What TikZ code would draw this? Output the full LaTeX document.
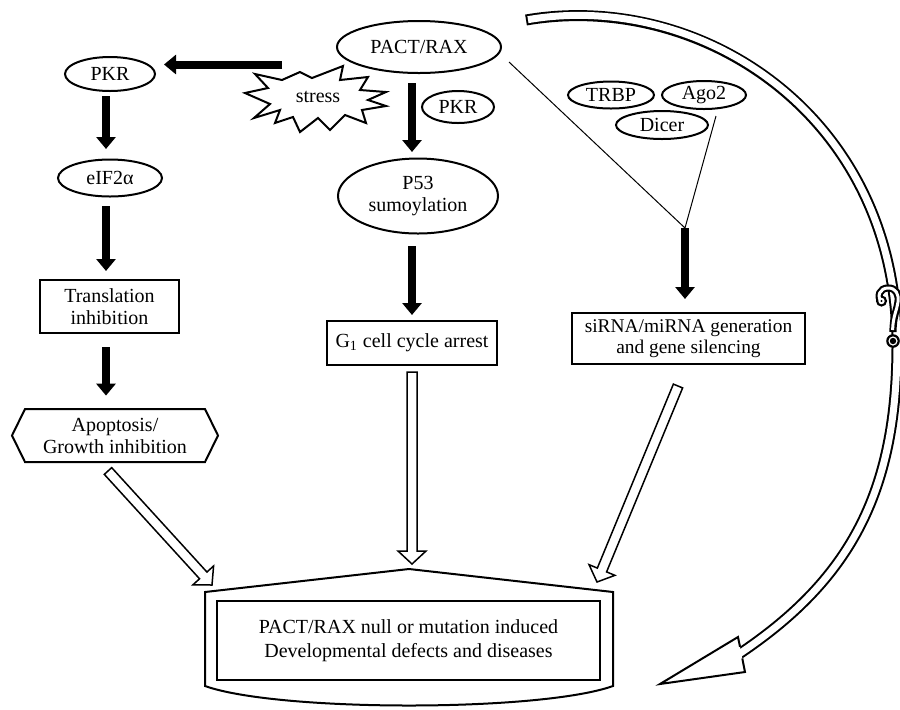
\documentclass[tikz,border=0pt]{standalone}
\usepackage{fontspec}
\setmainfont{Liberation Serif}
\usetikzlibrary{arrows.meta,calc,shapes.geometric}
\tikzset{
  lbl/.style={inner sep=0pt, align=center, font=\fontsize{10}{11}\selectfont},
  ell/.style={lbl, draw, line width=1pt, ellipse},
  box/.style={lbl, draw, line width=1pt, rectangle},
  barrow/.style={line width=4pt, -{Triangle[length=6pt,width=9.5pt]}},
  thinl/.style={line width=0.5pt},
  hol/.style={draw, line width=0.75pt, fill=white, line join=miter},
  outl/.style={line width=1pt, line join=miter},
}
\newcommand\hollowarrow[2]{%
  \path ($(#2)!6.5pt!(#1)$) coordinate (hb);
  \draw[hol] ($(#1)!2.5pt!90:(#2)$) -- ($(hb)!2.5pt!90:(#2)$) -- ($(hb)!7pt!90:(#2)$)
    -- (#2) -- ($(hb)!7pt!-90:(#2)$) -- ($(hb)!2.5pt!-90:(#2)$) -- ($(#1)!2.5pt!-90:(#2)$) -- cycle;
}
\begin{document}
\begin{tikzpicture}[x=0.5pt,y=-0.5pt]
\fill[white] (0,0) rectangle (900,709);
\useasboundingbox (0,0) rectangle (900,709);

% ---- nodes ----
\node[ell, minimum width=82pt, minimum height=26pt] (pact) at (419,47) {PACT/RAX};
\draw[outl, fill=white] (245,93) -- (268,88) -- (255,74) -- (282,80) -- (300,72) -- (312,78)
  -- (343,66) -- (340,80) -- (368,77) -- (360,90) -- (386,92) -- (368,100) -- (386,106)
  -- (362,110) -- (366,123) -- (345,115) -- (330,130) -- (318,118) -- (300,132) -- (293,117)
  -- (275,123) -- (280,110) -- (254,118) -- (270,104) -- cycle;
\node[lbl] (stress) at (318,97) {stress};
\node[ell, minimum width=45pt, minimum height=17pt] (pkrL) at (110,74) {PKR};
\node[ell, minimum width=52pt, minimum height=18.5pt] (eif) at (110,178) {eIF2α};
\node[box, minimum width=69.5pt, minimum height=26.5pt] (trans) at (109.5,306.5) {Translation\\inhibition};
\draw[outl] (12,435.5) -- (25,409) -- (205,409) -- (218,435.5) -- (205,462) -- (25,462) -- cycle;
\node[lbl, minimum width=103pt, minimum height=26.5pt] (apop) at (115,435.5) {Apoptosis/\\Growth inhibition};
\node[ell, minimum width=36pt, minimum height=16pt] (pkrM) at (458,107) {PKR};
\node[ell, minimum width=80pt, minimum height=37.5pt] (p53) at (418,196) {P53\\sumoylation};
\node[box, minimum width=85pt, minimum height=22pt] (g1) at (412,343) {G\textsubscript{1} cell cycle arrest};
\node[ell, minimum width=43pt, minimum height=13.5pt] (trbp) at (611,95) {TRBP};
\node[ell, minimum width=42pt, minimum height=14pt] (ago) at (704,95) {Ago2};
\node[ell, minimum width=46pt, minimum height=14pt] (dicer) at (662,125) {Dicer};
\node[box, minimum width=116.5pt, minimum height=25.5pt, font=\fontsize{9.7}{10.5}\selectfont] (sirna) at (688.5,338.5) {siRNA/miRNA generation\\and gene silencing};

% bottom box
\draw[outl] (205,592) -- (409,569) -- (613,592) -- (613,686) .. controls (540,712) and (278,712) .. (205,686) -- cycle;
\node[box, line width=1.3pt, minimum width=191.5pt, minimum height=39.5pt, font=\fontsize{10}{12}\selectfont] (out) at (408.5,640.5) {PACT/RAX null or mutation induced\\Developmental defects and diseases};

% ---- black arrows ----
\coordinate (sa) at (282,64.5);
\coordinate (cL) at (106,0);
\coordinate (cM) at (412,0);
\coordinate (j) at (685,228);
\coordinate (pa) at (509,62);
\coordinate (ag) at (716,116);
\draw[barrow, shorten >=4pt] (sa) -- (sa -| pkrL.east);
\draw[barrow, shorten <=2pt, shorten >=4.75pt] (cL |- pkrL.south) -- (cL |- eif.north);
\draw[barrow, shorten <=4.25pt, shorten >=4pt] (cL |- eif.south) -- (cL |- trans.north);
\draw[barrow, shorten <=6.5pt, shorten >=6.5pt] (cL |- trans.south) -- (cL |- apop.north);
\draw[barrow, shorten <=4.5pt, shorten >=2.75pt] (cM |- pact.south) -- (cM |- p53.north);
\draw[barrow, shorten <=5.75pt, shorten >=2.5pt] (cM |- p53.south) -- (cM |- g1.north);
\draw[thinl] (pa) -- (j) -- (ag);
\draw[barrow, shorten >=6.5pt] (j) -- (j |- sirna.north);

% ---- hollow arrows ----
\coordinate (ha1) at (108,471);  \coordinate (ht1) at (212,585);
\coordinate (ha2) at (412,372);  \coordinate (ht2) at (412,564);
\coordinate (ha3) at (678,386);  \coordinate (ht3) at (597,582);
\hollowarrow{ha1}{ht1}
\hollowarrow{ha2}{ht2}
\hollowarrow{ha3}{ht3}

% ---- big curved band arrow ----
\draw[line width=5.5pt] (526,20) .. controls (700,-10) and (897,115) .. (897,345)
  .. controls (897,495) and (848,582) .. (736,656);
\draw[white, line width=3.5pt, shorten <=1pt] (526,20) .. controls (700,-10) and (897,115) .. (897,345)
  .. controls (897,495) and (848,582) .. (736,656);
\fill[white] (740,646.8) -- (738,637) -- (660,684) -- (745,672) -- (742.3,658.4) -- cycle;
\draw[line width=1pt, line join=miter] (740,646.8) -- (738,637) -- (660,684) -- (745,672) -- (742.3,658.4);

% ---- question mark ----
\draw[line width=3.6pt, line cap=butt] (882,303) .. controls (876,296) and (880,288) .. (888,288)
  .. controls (896,288) and (899,294) .. (898,302) .. controls (897,310) and (893,316) .. (893,332);
\fill (881.5,301) circle[radius=2.8pt];
\draw[white, line width=1.5pt, line cap=butt] (882,303) .. controls (876,296) and (880,288) .. (888,288)
  .. controls (896,288) and (899,294) .. (898,302) .. controls (897,310) and (893,316) .. (892.6,330);
\fill[white] (881.5,301) circle[radius=1.6pt];
\fill (881.5,301) circle[radius=0.6pt];
\fill (893,341) circle[radius=3.4pt];
\fill[white] (893,341) circle[radius=2.3pt];
\fill (893,341) circle[radius=1.6pt];
\end{tikzpicture}
\end{document}
